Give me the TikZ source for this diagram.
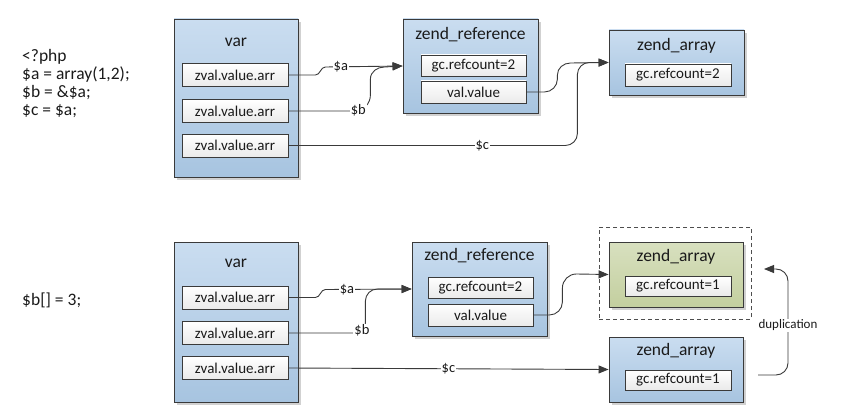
\documentclass[tikz,border=0pt]{standalone}
\usepackage{fontspec}
\setmainfont{Carlito}
\usetikzlibrary{arrows.meta,shadows}
\definecolor{lnc}{HTML}{3A3A3A}
\definecolor{txc}{HTML}{1A1A1A}
\definecolor{btop}{HTML}{CADDF0}
\definecolor{bbot}{HTML}{A7C4E0}
\definecolor{gtop}{HTML}{D8E0BF}
\definecolor{gbot}{HTML}{C3CF9F}
\definecolor{itop}{HTML}{FFFFFF}
\definecolor{ibot}{HTML}{EAEAEA}
\tikzset{
  shd/.style={drop shadow={shadow xshift=3pt,shadow yshift=-3pt,fill=black,opacity=0.18}},
  ob/.style={shd,draw=lnc,line width=0.9pt,top color=btop,bottom color=bbot,inner sep=0pt},
  og/.style={shd,draw=lnc,line width=0.9pt,top color=gtop,bottom color=gbot,inner sep=0pt},
  ib/.style={draw=lnc,line width=0.8pt,top color=itop,bottom color=ibot,inner sep=0pt,
    text=txc,font=\fontsize{15}{17}\selectfont},
  ttl/.style={text=txc,font=\fontsize{17.5}{20}\selectfont,inner sep=0pt},
  conn/.style={draw=lnc,line width=0.9pt},
  arr/.style={conn,-{Triangle[length=10pt,width=8pt]}},
  lbl/.style={fill=white,inner sep=1pt,text=txc,font=\fontsize{14.5}{16}\selectfont},
  code/.style={text=txc,font=\fontsize{17.5}{17.7}\selectfont,align=left,inner sep=0pt,anchor=west},
}
\begin{document}
\begin{tikzpicture}[x=1pt,y=-1pt]
\useasboundingbox (0,0) rectangle (854,412);
% ---------- left code ----------
\node[code] (code1) at (22,83.5) {<?php\\\$a = array(1,2);\\\$b = \&\$a;\\\$c = \$a;};
\node[code] (code2) at (22,300) {\$b[] = 3;};

% ---------- top section ----------
\node[ob,minimum width=124pt,minimum height=158pt] (v1) at (236,98) {};
\node[ttl] (v1t) at (236,42) {var};
\node[ib,minimum width=106pt,minimum height=23pt] (a1) at (235,75) {zval.value.arr};
\node[ib,minimum width=106pt,minimum height=23pt] (b1) at (235,111) {zval.value.arr};
\node[ib,minimum width=106pt,minimum height=23pt] (c1) at (235,145.5) {zval.value.arr};

\node[ob,minimum width=135pt,minimum height=94pt] (zr1) at (470.5,66) {};
\node[ttl] (zr1t) at (470.5,35) {zend\_reference};
\node[ib,minimum width=105pt,minimum height=21pt] (gc1) at (473.5,65.5) {gc.refcount=2};
\node[ib,minimum width=105pt,minimum height=22pt] (vv1) at (473.5,92) {val.value};

\node[ob,minimum width=135pt,minimum height=65pt] (za1) at (676.5,62.5) {};
\node[ttl] (za1t) at (676.5,46) {zend\_array};
\node[ib,minimum width=106pt,minimum height=22pt] (zg1) at (678,75) {gc.refcount=2};

% connectors top
\draw[arr] (a1.east) -- ++(27,0) to[out=0,in=180] ++(10,-8) -- node[lbl,pos=0.2]{\$a} (zr1.west);
\draw[arr] (b1.east) -- ++(66,0) to[out=0,in=-90] node[lbl,pos=0.15]{\$b} ++(16,-16) -- ++(0,-16) to[out=90,in=180] ++(14,-12) -- (zr1.west);
\draw[arr] (vv1.east) -- ++(18,0) to[out=0,in=-90] ++(13,-13) -- ++(0,-4) to[out=90,in=180] ++(13,-12) -- (za1.west);
\draw[arr] (c1.east) -- node[lbl,pos=0.7]{\$c} ++(277,0) to[out=0,in=-90] ++(12,-12) -- ++(0,-59) to[out=90,in=180] ++(12,-12) -- (za1.west);

% ---------- bottom section ----------
\node[ob,minimum width=124pt,minimum height=160pt] (v2) at (236,322) {};
\node[ttl] (v2t) at (236,263) {var};
\node[ib,minimum width=106pt,minimum height=23pt] (a2) at (235,297.5) {zval.value.arr};
\node[ib,minimum width=106pt,minimum height=23pt] (b2) at (235,333) {zval.value.arr};
\node[ib,minimum width=106pt,minimum height=23pt] (c2) at (235,368) {zval.value.arr};

\node[ob,minimum width=135pt,minimum height=94pt] (zr2) at (479.5,289) {};
\node[ttl] (zr2t) at (479.5,256) {zend\_reference};
\node[ib,minimum width=105pt,minimum height=21pt] (gc2) at (480.5,287.5) {gc.refcount=2};
\node[ib,minimum width=105pt,minimum height=22pt] (vv2) at (480.5,315) {val.value};

\node[draw=lnc!90,line width=0.8pt,dash pattern=on 4pt off 3pt,minimum width=152pt,minimum height=92pt,inner sep=0pt] (dash) at (675,273) {};
\node[og,minimum width=134pt,minimum height=65pt] (za2) at (676,274.5) {};
\node[ttl] (za2t) at (676,257) {zend\_array};
\node[ib,minimum width=106pt,minimum height=20pt] (zg2) at (678,286) {gc.refcount=1};

\node[ob,minimum width=134pt,minimum height=65pt] (za3) at (676,369.5) {};
\node[ttl] (za3t) at (676,351) {zend\_array};
\node[ib,minimum width=106pt,minimum height=20pt] (zg3) at (678,380) {gc.refcount=1};

% connectors bottom
\draw[arr] (a2.east) -- ++(27,0) to[out=0,in=180] ++(10,-8) -- node[lbl,pos=0.25]{\$a} (zr2.west);
\draw[arr] (b2.east) -- ++(67,0) to[out=0,in=-90] node[lbl,pos=0.45]{\$b} ++(10,-10) -- ++(0,-22) to[out=90,in=180] ++(12,-12) -- (zr2.west);
\draw[arr] (vv2.east) -- ++(16,0) to[out=0,in=-90] ++(13,-13) -- ++(0,-14) to[out=90,in=180] ++(14,-14) -- (za2.west);
\draw[arr] (c2.east) -- node[lbl,pos=0.5]{\$c} (za3.west);

\coordinate (d1) at (758,375);
\coordinate (d2) at (764,269);
\draw[arr] (d1) -- ++(18,0) to[out=0,in=-90] ++(12,-12) -- node[lbl,pos=0.46,font=\fontsize{13}{15}\selectfont]{duplication} ++(0,-82) to[out=90,in=0] ++(-12,-12) -- (d2);
\end{tikzpicture}
\end{document}
